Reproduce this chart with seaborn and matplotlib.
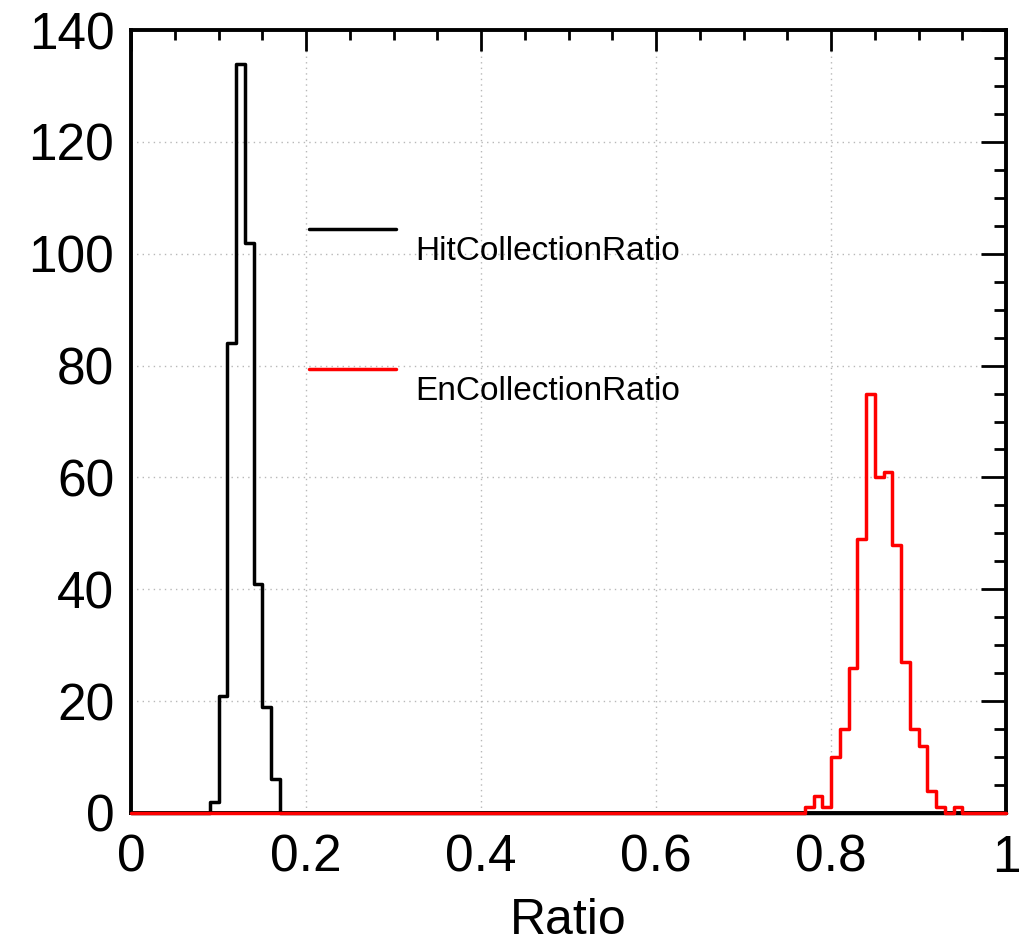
import numpy as np
import pandas as pd
import matplotlib
matplotlib.use("Agg")
import matplotlib.pyplot as plt
from matplotlib.ticker import MultipleLocator, FuncFormatter
import seaborn as sns

# ---- data (bin width 0.01, bins given by their lower edge) ----
hit_bin_lo = [0.09, 0.10, 0.11, 0.12, 0.13, 0.14, 0.15, 0.16]
hit_counts = [2, 21, 84, 134, 102, 41, 19, 6]

en_bin_lo = [0.77, 0.78, 0.79, 0.80, 0.81, 0.82, 0.83, 0.84, 0.85,
             0.86, 0.87, 0.88, 0.89, 0.90, 0.91, 0.92, 0.93, 0.94]
en_counts = [1, 3, 1, 10, 15, 26, 49, 75, 60,
             61, 48, 27, 15, 12, 4, 1, 0, 1]

labels = ["HitCollectionRatio", "EnCollectionRatio"]
colors = ["black", "red"]
x_label = "Ratio"

n_bins = 100
edges = np.linspace(0.0, 1.0, n_bins + 1)
centers = 0.5 * (edges[:-1] + edges[1:])


def full_counts(lo, cnt):
    arr = np.zeros(n_bins)
    for l, c in zip(lo, cnt):
        arr[int(round(l * 100))] = c
    return arr


df = pd.DataFrame({
    "x": np.concatenate([centers, centers]),
    "w": np.concatenate([full_counts(hit_bin_lo, hit_counts),
                         full_counts(en_bin_lo, en_counts)]),
    "series": [labels[0]] * n_bins + [labels[1]] * n_bins,
})

sns.set_style("white")
plt.rcParams["font.family"] = ["Liberation Sans", "DejaVu Sans"]
plt.rcParams["text.color"] = "black"
plt.rcParams["axes.labelcolor"] = "black"
plt.rcParams["xtick.color"] = "black"
plt.rcParams["ytick.color"] = "black"

fig = plt.figure(figsize=(10.28, 9.47), dpi=100)
ax = fig.add_axes([131 / 1028, 1 - 813 / 947, 875 / 1028, 783 / 947])

for lab, col in zip(labels, colors):
    sub = df[df["series"] == lab]
    sns.histplot(data=sub, x="x", weights="w", binwidth=0.01,
                 binrange=(0.0, 1.0), element="step",
                 fill=False, color=col, linewidth=2.5, ax=ax, zorder=6)

for ln in ax.lines + list(ax.patches) + list(ax.collections):
    ln.set_clip_on(False)

ax.set_xlim(0, 1)
ax.set_ylim(0, 140)

ax.grid(True, which="major", linestyle=(0, (1, 3)), color="#b8b8b8",
        linewidth=1.0, zorder=0)
ax.set_axisbelow(True)

ax.xaxis.set_major_locator(MultipleLocator(0.2))
ax.xaxis.set_minor_locator(MultipleLocator(0.05))
ax.yaxis.set_major_locator(MultipleLocator(20))
ax.yaxis.set_minor_locator(MultipleLocator(5))
ax.xaxis.set_major_formatter(FuncFormatter(lambda v, p: f"{v:g}"))
ax.yaxis.set_major_formatter(FuncFormatter(lambda v, p: f"{v:g}"))

ax.tick_params(axis="both", which="both", direction="in", top=True,
               right=True, color="black", width=2.0, labelsize=37,
               labelcolor="black")
ax.tick_params(axis="x", which="major", length=15, pad=15)
ax.tick_params(axis="x", which="minor", length=7.5)
ax.tick_params(axis="y", which="major", length=18, pad=12)
ax.tick_params(axis="y", which="minor", length=9)

for s in ax.spines.values():
    s.set_linewidth(2.8)
    s.set_color("black")
    s.set_zorder(5)

ax.set_xlabel(x_label, fontsize=36, labelpad=11, color="black")
ax.set_ylabel("")

# ROOT-style legend (line above, text below-right)
leg_y_line = [0.7458, 0.567]
leg_y_text = [0.7165, 0.5377]
for lab, col, yl, yt in zip(labels, colors, leg_y_line, leg_y_text):
    ax.plot([0.2034, 0.3029], [yl, yl], color=col, linewidth=2.5,
            transform=ax.transAxes, zorder=4)
    ax.text(0.3246, yt, lab, fontsize=24, color="black", ha="left",
            va="center", transform=ax.transAxes, zorder=4)

fig.savefig("out.png", dpi=100, facecolor="white")
